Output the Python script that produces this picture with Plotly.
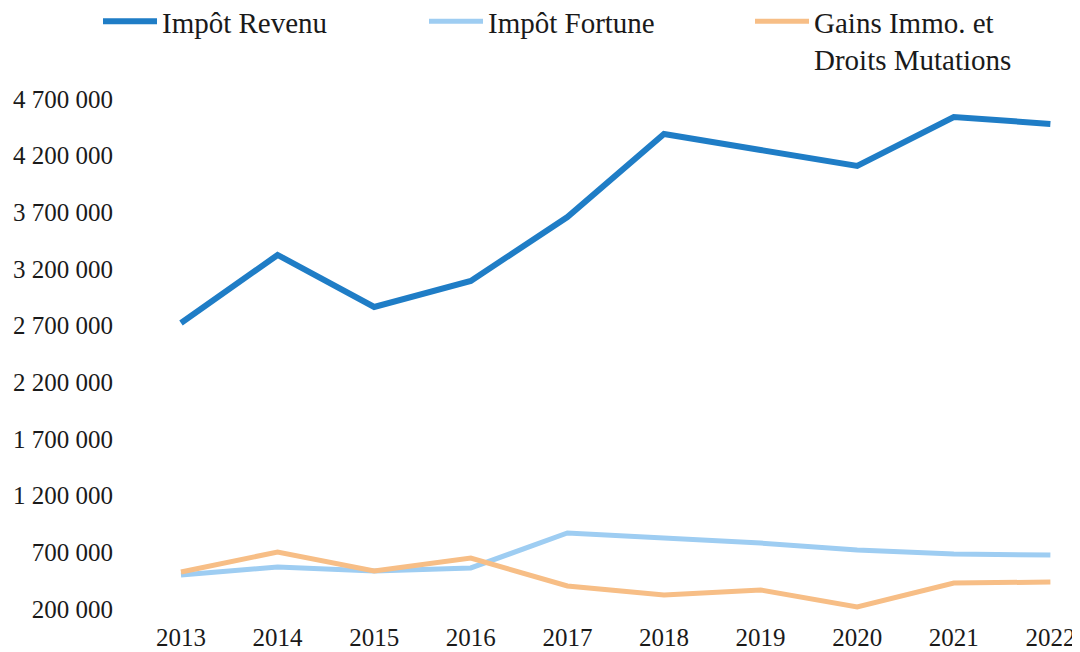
import plotly.graph_objects as go

years = [2013, 2014, 2015, 2016, 2017, 2018, 2019, 2020, 2021, 2022]
impot_revenu = [2723000, 3324000, 2865000, 3094000, 3659000, 4391000, 4250000, 4109000, 4541000, 4480000]
impot_fortune = [500000, 571000, 535000, 562000, 871000, 826000, 782000, 721000, 685000, 676000]
gains_immo = [526000, 703000, 535000, 650000, 403000, 324000, 368000, 218000, 429000, 438000]

y_tickvals = [200000, 700000, 1200000, 1700000, 2200000, 2700000, 3200000, 3700000, 4200000, 4700000]
y_ticktext = ["200 000", "700 000", "1 200 000", "1 700 000", "2 200 000", "2 700 000",
              "3 200 000", "3 700 000", "4 200 000", "4 700 000"]

series_names = ["Impôt Revenu", "Impôt Fortune", "Gains Immo. et<br>Droits Mutations"]

fig = go.Figure()
fig.add_trace(go.Scatter(x=years, y=impot_revenu, mode="lines", name=series_names[0],
                         line=dict(color="#1F7DC6", width=6)))
fig.add_trace(go.Scatter(x=years, y=impot_fortune, mode="lines", name=series_names[1],
                         line=dict(color="#9ECDF2", width=5)))
fig.add_trace(go.Scatter(x=years, y=gains_immo, mode="lines", name=series_names[2],
                         line=dict(color="#F7BE86", width=5)))

FONT = "Liberation Serif, Times New Roman, serif"
fig.update_layout(
    width=1072, height=644,
    margin=dict(l=110, r=10, t=87, b=32, autoexpand=False),
    paper_bgcolor="white", plot_bgcolor="white",
    font=dict(family=FONT, size=25, color="#1a1a1a"),
    showlegend=True,
    legend=dict(
        orientation="h", xref="paper", yref="paper",
        x=-0.021, y=1.1886, xanchor="left", yanchor="top",
        entrywidth=257, entrywidthmode="pixels", itemwidth=54,
        valign="top", font=dict(family=FONT, size=29, color="#1a1a1a"),
        tracegroupgap=0, itemclick=False, bgcolor="rgba(0,0,0,0)",
    ),
    xaxis=dict(
        range=[2012.348, 2022.203], tickvals=years, ticktext=[str(y) for y in years],
        showgrid=False, zeroline=False, showline=False, ticks="",
        tickfont=dict(family=FONT, size=25),
    ),
    yaxis=dict(
        range=[102900, 4735300], tickvals=y_tickvals, ticktext=y_ticktext,
        showgrid=False, zeroline=False, showline=False, ticks="",
        tickfont=dict(family=FONT, size=25), ticklabelstandoff=4,
    ),
)

fig.write_html("out.html")
